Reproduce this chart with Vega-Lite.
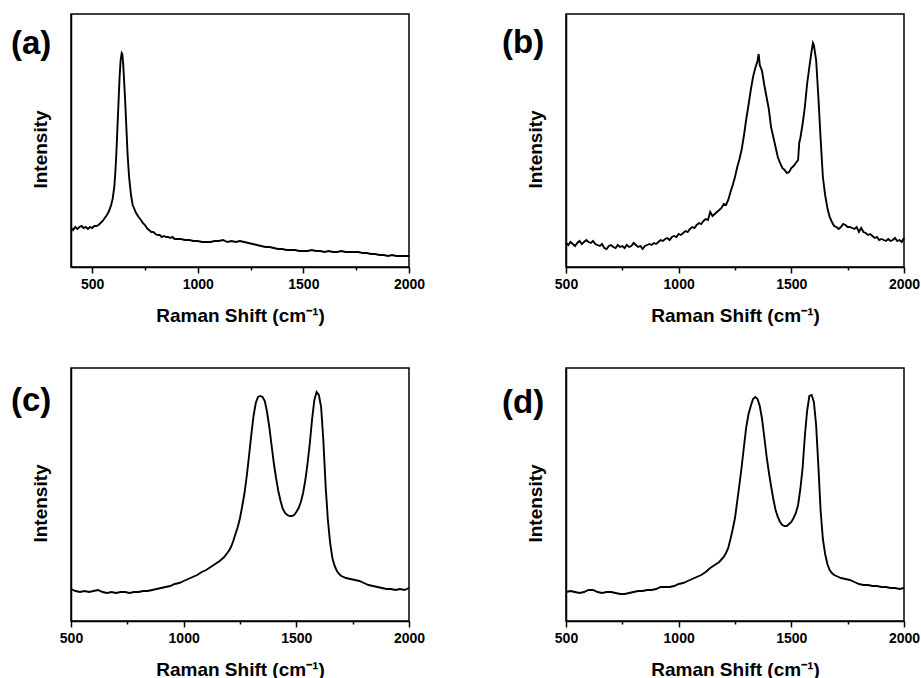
{
  "$schema": "https://vega.github.io/schema/vega-lite/v6.json",
  "padding": {"left": 10, "top": 13, "right": 0, "bottom": 0},
  "background": "white",
  "datasets": {
    "a": [
      {"shift":400,"intensity":39},{"shift":410,"intensity":37},{"shift":420,"intensity":40},{"shift":430,"intensity":38},{"shift":440,"intensity":40},{"shift":450,"intensity":41},{"shift":460,"intensity":39},{"shift":470,"intensity":40},{"shift":480,"intensity":38},{"shift":490,"intensity":40},{"shift":500,"intensity":39},{"shift":510,"intensity":41},{"shift":520,"intensity":41},{"shift":530,"intensity":42},{"shift":540,"intensity":44},{"shift":550,"intensity":46},{"shift":560,"intensity":49},{"shift":570,"intensity":52},{"shift":580,"intensity":56},{"shift":590,"intensity":62},{"shift":597,"intensity":68},{"shift":605,"intensity":80},{"shift":610,"intensity":95},{"shift":615,"intensity":115},{"shift":620,"intensity":140},{"shift":625,"intensity":165},{"shift":630,"intensity":190},{"shift":635,"intensity":207},{"shift":640,"intensity":214},{"shift":643,"intensity":213},{"shift":647,"intensity":203},{"shift":651,"intensity":188},{"shift":656,"intensity":168},{"shift":662,"intensity":140},{"shift":668,"intensity":112},{"shift":675,"intensity":90},{"shift":684,"intensity":72},{"shift":692,"intensity":62},{"shift":700,"intensity":58},{"shift":708,"intensity":54},{"shift":720,"intensity":50},{"shift":731,"intensity":47},{"shift":740,"intensity":44},{"shift":750,"intensity":42},{"shift":763,"intensity":38},{"shift":770,"intensity":37},{"shift":780,"intensity":35},{"shift":790,"intensity":35},{"shift":800,"intensity":33},{"shift":810,"intensity":32},{"shift":820,"intensity":32},{"shift":830,"intensity":30},{"shift":840,"intensity":31},{"shift":850,"intensity":30},{"shift":860,"intensity":30},{"shift":870,"intensity":29},{"shift":880,"intensity":30},{"shift":890,"intensity":28},{"shift":900,"intensity":28},{"shift":920,"intensity":28},{"shift":940,"intensity":27},{"shift":960,"intensity":27},{"shift":980,"intensity":26},{"shift":1000,"intensity":26},{"shift":1020,"intensity":25},{"shift":1040,"intensity":25},{"shift":1060,"intensity":25},{"shift":1080,"intensity":26},{"shift":1100,"intensity":26},{"shift":1120,"intensity":27},{"shift":1140,"intensity":25},{"shift":1160,"intensity":26},{"shift":1180,"intensity":25},{"shift":1200,"intensity":26},{"shift":1220,"intensity":25},{"shift":1240,"intensity":24},{"shift":1260,"intensity":23},{"shift":1280,"intensity":22},{"shift":1300,"intensity":21},{"shift":1320,"intensity":20},{"shift":1340,"intensity":20},{"shift":1360,"intensity":19},{"shift":1380,"intensity":18},{"shift":1400,"intensity":18},{"shift":1420,"intensity":17},{"shift":1440,"intensity":17},{"shift":1460,"intensity":17},{"shift":1480,"intensity":16},{"shift":1500,"intensity":16},{"shift":1520,"intensity":16},{"shift":1540,"intensity":17},{"shift":1560,"intensity":16},{"shift":1580,"intensity":16},{"shift":1600,"intensity":15},{"shift":1620,"intensity":16},{"shift":1640,"intensity":15},{"shift":1660,"intensity":15},{"shift":1680,"intensity":16},{"shift":1700,"intensity":15},{"shift":1720,"intensity":15},{"shift":1740,"intensity":15},{"shift":1760,"intensity":15},{"shift":1780,"intensity":14},{"shift":1800,"intensity":14},{"shift":1820,"intensity":13},{"shift":1840,"intensity":13},{"shift":1860,"intensity":12},{"shift":1880,"intensity":12},{"shift":1900,"intensity":11},{"shift":1920,"intensity":12},{"shift":1940,"intensity":11},{"shift":1960,"intensity":11},{"shift":1980,"intensity":11},{"shift":2000,"intensity":11}
    ],
    "b": [
      {"shift":500,"intensity":24},{"shift":510,"intensity":22},{"shift":520,"intensity":25},{"shift":530,"intensity":23},{"shift":540,"intensity":21},{"shift":550,"intensity":24},{"shift":560,"intensity":26},{"shift":570,"intensity":23},{"shift":580,"intensity":25},{"shift":590,"intensity":27},{"shift":600,"intensity":25},{"shift":610,"intensity":24},{"shift":620,"intensity":26},{"shift":630,"intensity":23},{"shift":640,"intensity":22},{"shift":650,"intensity":21},{"shift":660,"intensity":23},{"shift":670,"intensity":19},{"shift":680,"intensity":18},{"shift":690,"intensity":21},{"shift":700,"intensity":22},{"shift":710,"intensity":20},{"shift":720,"intensity":19},{"shift":730,"intensity":22},{"shift":740,"intensity":20},{"shift":750,"intensity":21},{"shift":760,"intensity":19},{"shift":770,"intensity":22},{"shift":780,"intensity":20},{"shift":790,"intensity":21},{"shift":800,"intensity":24},{"shift":810,"intensity":22},{"shift":820,"intensity":20},{"shift":830,"intensity":21},{"shift":840,"intensity":18},{"shift":850,"intensity":21},{"shift":860,"intensity":22},{"shift":870,"intensity":23},{"shift":880,"intensity":22},{"shift":890,"intensity":24},{"shift":900,"intensity":23},{"shift":910,"intensity":25},{"shift":920,"intensity":27},{"shift":930,"intensity":26},{"shift":940,"intensity":28},{"shift":950,"intensity":29},{"shift":960,"intensity":27},{"shift":970,"intensity":30},{"shift":980,"intensity":31},{"shift":990,"intensity":30},{"shift":1000,"intensity":33},{"shift":1010,"intensity":32},{"shift":1020,"intensity":34},{"shift":1030,"intensity":36},{"shift":1040,"intensity":35},{"shift":1050,"intensity":38},{"shift":1060,"intensity":40},{"shift":1070,"intensity":39},{"shift":1080,"intensity":42},{"shift":1090,"intensity":44},{"shift":1100,"intensity":43},{"shift":1110,"intensity":46},{"shift":1120,"intensity":48},{"shift":1130,"intensity":47},{"shift":1140,"intensity":55},{"shift":1150,"intensity":51},{"shift":1160,"intensity":53},{"shift":1170,"intensity":55},{"shift":1180,"intensity":57},{"shift":1190,"intensity":59},{"shift":1200,"intensity":63},{"shift":1210,"intensity":62},{"shift":1220,"intensity":67},{"shift":1230,"intensity":75},{"shift":1240,"intensity":82},{"shift":1250,"intensity":90},{"shift":1260,"intensity":100},{"shift":1270,"intensity":108},{"shift":1280,"intensity":118},{"shift":1290,"intensity":132},{"shift":1300,"intensity":148},{"shift":1310,"intensity":162},{"shift":1320,"intensity":177},{"shift":1330,"intensity":190},{"shift":1340,"intensity":199},{"shift":1350,"intensity":206},{"shift":1355,"intensity":213},{"shift":1360,"intensity":202},{"shift":1370,"intensity":196},{"shift":1380,"intensity":182},{"shift":1390,"intensity":170},{"shift":1400,"intensity":158},{"shift":1410,"intensity":140},{"shift":1420,"intensity":130},{"shift":1430,"intensity":120},{"shift":1440,"intensity":110},{"shift":1450,"intensity":104},{"shift":1460,"intensity":99},{"shift":1470,"intensity":97},{"shift":1480,"intensity":94},{"shift":1490,"intensity":95},{"shift":1500,"intensity":99},{"shift":1510,"intensity":101},{"shift":1520,"intensity":104},{"shift":1530,"intensity":107},{"shift":1535,"intensity":124},{"shift":1540,"intensity":129},{"shift":1550,"intensity":143},{"shift":1560,"intensity":160},{"shift":1570,"intensity":183},{"shift":1580,"intensity":200},{"shift":1590,"intensity":216},{"shift":1596,"intensity":224},{"shift":1600,"intensity":222},{"shift":1610,"intensity":207},{"shift":1620,"intensity":170},{"shift":1630,"intensity":128},{"shift":1640,"intensity":90},{"shift":1650,"intensity":72},{"shift":1660,"intensity":59},{"shift":1670,"intensity":50},{"shift":1680,"intensity":45},{"shift":1690,"intensity":41},{"shift":1700,"intensity":40},{"shift":1710,"intensity":38},{"shift":1720,"intensity":40},{"shift":1730,"intensity":43},{"shift":1740,"intensity":42},{"shift":1750,"intensity":40},{"shift":1760,"intensity":40},{"shift":1770,"intensity":39},{"shift":1780,"intensity":38},{"shift":1790,"intensity":40},{"shift":1800,"intensity":35},{"shift":1810,"intensity":39},{"shift":1820,"intensity":35},{"shift":1830,"intensity":34},{"shift":1840,"intensity":32},{"shift":1850,"intensity":33},{"shift":1860,"intensity":31},{"shift":1870,"intensity":29},{"shift":1880,"intensity":30},{"shift":1890,"intensity":27},{"shift":1900,"intensity":28},{"shift":1910,"intensity":27},{"shift":1920,"intensity":26},{"shift":1930,"intensity":28},{"shift":1940,"intensity":26},{"shift":1950,"intensity":27},{"shift":1960,"intensity":29},{"shift":1970,"intensity":26},{"shift":1980,"intensity":27},{"shift":1990,"intensity":25},{"shift":2000,"intensity":29}
    ],
    "c": [
      {"shift":500,"intensity":32},{"shift":520,"intensity":30},{"shift":540,"intensity":29},{"shift":560,"intensity":30},{"shift":580,"intensity":29},{"shift":600,"intensity":30},{"shift":620,"intensity":31},{"shift":640,"intensity":29},{"shift":660,"intensity":28},{"shift":680,"intensity":29},{"shift":700,"intensity":28},{"shift":720,"intensity":29},{"shift":740,"intensity":29},{"shift":760,"intensity":28},{"shift":780,"intensity":29},{"shift":800,"intensity":29},{"shift":820,"intensity":30},{"shift":840,"intensity":30},{"shift":860,"intensity":31},{"shift":880,"intensity":32},{"shift":900,"intensity":33},{"shift":920,"intensity":34},{"shift":940,"intensity":35},{"shift":960,"intensity":37},{"shift":980,"intensity":38},{"shift":1000,"intensity":40},{"shift":1020,"intensity":42},{"shift":1040,"intensity":44},{"shift":1060,"intensity":46},{"shift":1080,"intensity":49},{"shift":1100,"intensity":51},{"shift":1120,"intensity":54},{"shift":1140,"intensity":57},{"shift":1160,"intensity":60},{"shift":1180,"intensity":64},{"shift":1200,"intensity":70},{"shift":1210,"intensity":74},{"shift":1220,"intensity":80},{"shift":1230,"intensity":87},{"shift":1240,"intensity":94},{"shift":1250,"intensity":103},{"shift":1260,"intensity":115},{"shift":1270,"intensity":128},{"shift":1280,"intensity":145},{"shift":1290,"intensity":165},{"shift":1300,"intensity":186},{"shift":1310,"intensity":205},{"shift":1320,"intensity":218},{"shift":1330,"intensity":224},{"shift":1340,"intensity":225},{"shift":1350,"intensity":224},{"shift":1360,"intensity":220},{"shift":1370,"intensity":209},{"shift":1380,"intensity":194},{"shift":1390,"intensity":176},{"shift":1400,"intensity":158},{"shift":1410,"intensity":143},{"shift":1420,"intensity":130},{"shift":1430,"intensity":120},{"shift":1440,"intensity":112},{"shift":1450,"intensity":108},{"shift":1460,"intensity":106},{"shift":1470,"intensity":105},{"shift":1480,"intensity":105},{"shift":1490,"intensity":106},{"shift":1500,"intensity":109},{"shift":1510,"intensity":113},{"shift":1520,"intensity":119},{"shift":1530,"intensity":128},{"shift":1540,"intensity":141},{"shift":1550,"intensity":158},{"shift":1560,"intensity":178},{"shift":1570,"intensity":202},{"shift":1580,"intensity":221},{"shift":1590,"intensity":229},{"shift":1600,"intensity":226},{"shift":1610,"intensity":214},{"shift":1620,"intensity":180},{"shift":1630,"intensity":135},{"shift":1640,"intensity":101},{"shift":1650,"intensity":78},{"shift":1660,"intensity":63},{"shift":1670,"intensity":55},{"shift":1680,"intensity":50},{"shift":1690,"intensity":47},{"shift":1700,"intensity":45},{"shift":1720,"intensity":43},{"shift":1740,"intensity":42},{"shift":1760,"intensity":41},{"shift":1780,"intensity":40},{"shift":1800,"intensity":38},{"shift":1820,"intensity":36},{"shift":1840,"intensity":35},{"shift":1860,"intensity":34},{"shift":1880,"intensity":33},{"shift":1900,"intensity":32},{"shift":1920,"intensity":32},{"shift":1940,"intensity":31},{"shift":1960,"intensity":32},{"shift":1980,"intensity":31},{"shift":2000,"intensity":33}
    ],
    "d": [
      {"shift":500,"intensity":29},{"shift":520,"intensity":30},{"shift":540,"intensity":29},{"shift":560,"intensity":28},{"shift":580,"intensity":29},{"shift":600,"intensity":31},{"shift":620,"intensity":31},{"shift":640,"intensity":29},{"shift":660,"intensity":28},{"shift":680,"intensity":29},{"shift":700,"intensity":29},{"shift":720,"intensity":28},{"shift":740,"intensity":27},{"shift":760,"intensity":27},{"shift":780,"intensity":28},{"shift":800,"intensity":29},{"shift":820,"intensity":30},{"shift":840,"intensity":30},{"shift":860,"intensity":31},{"shift":880,"intensity":31},{"shift":900,"intensity":32},{"shift":920,"intensity":34},{"shift":940,"intensity":34},{"shift":960,"intensity":34},{"shift":980,"intensity":35},{"shift":1000,"intensity":37},{"shift":1020,"intensity":38},{"shift":1040,"intensity":40},{"shift":1060,"intensity":42},{"shift":1080,"intensity":44},{"shift":1100,"intensity":46},{"shift":1120,"intensity":49},{"shift":1140,"intensity":53},{"shift":1160,"intensity":56},{"shift":1180,"intensity":59},{"shift":1200,"intensity":64},{"shift":1210,"intensity":68},{"shift":1220,"intensity":73},{"shift":1230,"intensity":82},{"shift":1240,"intensity":92},{"shift":1250,"intensity":103},{"shift":1260,"intensity":120},{"shift":1270,"intensity":137},{"shift":1280,"intensity":155},{"shift":1290,"intensity":175},{"shift":1300,"intensity":194},{"shift":1310,"intensity":207},{"shift":1320,"intensity":215},{"shift":1330,"intensity":222},{"shift":1340,"intensity":224},{"shift":1350,"intensity":222},{"shift":1360,"intensity":215},{"shift":1370,"intensity":202},{"shift":1380,"intensity":184},{"shift":1390,"intensity":165},{"shift":1400,"intensity":149},{"shift":1410,"intensity":135},{"shift":1420,"intensity":122},{"shift":1430,"intensity":111},{"shift":1440,"intensity":104},{"shift":1450,"intensity":99},{"shift":1460,"intensity":96},{"shift":1470,"intensity":95},{"shift":1480,"intensity":95},{"shift":1490,"intensity":97},{"shift":1500,"intensity":99},{"shift":1510,"intensity":103},{"shift":1520,"intensity":108},{"shift":1530,"intensity":116},{"shift":1540,"intensity":132},{"shift":1550,"intensity":153},{"shift":1560,"intensity":185},{"shift":1570,"intensity":210},{"shift":1580,"intensity":225},{"shift":1590,"intensity":226},{"shift":1600,"intensity":219},{"shift":1610,"intensity":196},{"shift":1620,"intensity":155},{"shift":1630,"intensity":110},{"shift":1640,"intensity":82},{"shift":1650,"intensity":67},{"shift":1660,"intensity":57},{"shift":1670,"intensity":51},{"shift":1680,"intensity":48},{"shift":1690,"intensity":46},{"shift":1700,"intensity":45},{"shift":1720,"intensity":43},{"shift":1740,"intensity":42},{"shift":1760,"intensity":41},{"shift":1780,"intensity":39},{"shift":1800,"intensity":37},{"shift":1820,"intensity":36},{"shift":1840,"intensity":36},{"shift":1860,"intensity":35},{"shift":1880,"intensity":35},{"shift":1900,"intensity":34},{"shift":1920,"intensity":34},{"shift":1940,"intensity":33},{"shift":1960,"intensity":33},{"shift":1980,"intensity":32},{"shift":2000,"intensity":33}
    ]
  },
  "columns": 2,
  "spacing": {"row": 41, "column": 75},
  "concat": [
    {
      "title": {"text": "(a)", "dx": -60, "dy": 51},
      "width": 338, "height": 253,
      "data": {"name": "a"},
      "mark": {"type": "line", "color": "black", "strokeWidth": 1.9},
      "encoding": {
        "x": {"field": "shift", "type": "quantitative", "scale": {"domain": [400, 2000], "nice": false, "zero": false},
          "axis": {"values": [500, 750, 1000, 1250, 1500, 1750, 2000], "format": "d", "labelExpr": "datum.value % 500 === 0 ? datum.label : ''", "tickSize": {"condition": {"test": "datum.value % 500 === 0", "value": 6}, "value": 3}, "title": "Raman Shift (cm⁻¹)"}},
        "y": {"field": "intensity", "type": "quantitative", "scale": {"domain": [0, 253], "nice": false},
          "axis": {"labels": false, "ticks": false, "title": "Intensity", "titlePadding": 21, "titleY": 135}}
      }
    },
    {
      "title": {"text": "(b)", "dx": -64, "dy": 50},
      "width": 338, "height": 253,
      "data": {"name": "b"},
      "mark": {"type": "line", "color": "black", "strokeWidth": 1.9},
      "encoding": {
        "x": {"field": "shift", "type": "quantitative", "scale": {"domain": [500, 2000], "nice": false, "zero": false},
          "axis": {"values": [500, 750, 1000, 1250, 1500, 1750, 2000], "format": "d", "labelExpr": "datum.value % 500 === 0 ? datum.label : ''", "tickSize": {"condition": {"test": "datum.value % 500 === 0", "value": 6}, "value": 3}, "title": "Raman Shift (cm⁻¹)"}},
        "y": {"field": "intensity", "type": "quantitative", "scale": {"domain": [0, 253], "nice": false},
          "axis": {"labels": false, "ticks": false, "title": "Intensity", "titlePadding": 21, "titleY": 135}}
      }
    },
    {
      "title": {"text": "(c)", "dx": -60, "dy": 54},
      "width": 338, "height": 253,
      "data": {"name": "c"},
      "mark": {"type": "line", "color": "black", "strokeWidth": 1.9},
      "encoding": {
        "x": {"field": "shift", "type": "quantitative", "scale": {"domain": [500, 2000], "nice": false, "zero": false},
          "axis": {"values": [500, 750, 1000, 1250, 1500, 1750, 2000], "format": "d", "labelExpr": "datum.value % 500 === 0 ? datum.label : ''", "tickSize": {"condition": {"test": "datum.value % 500 === 0", "value": 6}, "value": 3}, "title": "Raman Shift (cm⁻¹)"}},
        "y": {"field": "intensity", "type": "quantitative", "scale": {"domain": [0, 253], "nice": false},
          "axis": {"labels": false, "ticks": false, "title": "Intensity", "titlePadding": 21, "titleY": 135}}
      }
    },
    {
      "title": {"text": "(d)", "dx": -64, "dy": 56},
      "width": 338, "height": 253,
      "data": {"name": "d"},
      "mark": {"type": "line", "color": "black", "strokeWidth": 1.9},
      "encoding": {
        "x": {"field": "shift", "type": "quantitative", "scale": {"domain": [500, 2000], "nice": false, "zero": false},
          "axis": {"values": [500, 750, 1000, 1250, 1500, 1750, 2000], "format": "d", "labelExpr": "datum.value % 500 === 0 ? datum.label : ''", "tickSize": {"condition": {"test": "datum.value % 500 === 0", "value": 6}, "value": 3}, "title": "Raman Shift (cm⁻¹)"}},
        "y": {"field": "intensity", "type": "quantitative", "scale": {"domain": [0, 253], "nice": false},
          "axis": {"labels": false, "ticks": false, "title": "Intensity", "titlePadding": 21, "titleY": 135}}
      }
    }
  ],
  "config": {
    "font": "Liberation Sans",
    "view": {"stroke": "black", "strokeWidth": 1.5},
    "axis": {"grid": false, "domainColor": "black", "domainWidth": 1.5, "tickColor": "black", "tickWidth": 1.5, "labelFont": "Liberation Sans", "labelFontWeight": "bold", "labelFontSize": 14, "labelColor": "black", "labelPadding": 4, "labelFlush": false, "labelOverlap": false, "titleFont": "Liberation Sans", "titleFontWeight": "bold", "titleFontSize": 19, "titleColor": "black"},
    "axisX": {"titlePadding": 15},
    "title": {"font": "Liberation Sans", "fontSize": 33, "fontWeight": "bold", "color": "black", "anchor": "start", "frame": "group", "offset": 0, "baseline": "alphabetic"}
  }
}
